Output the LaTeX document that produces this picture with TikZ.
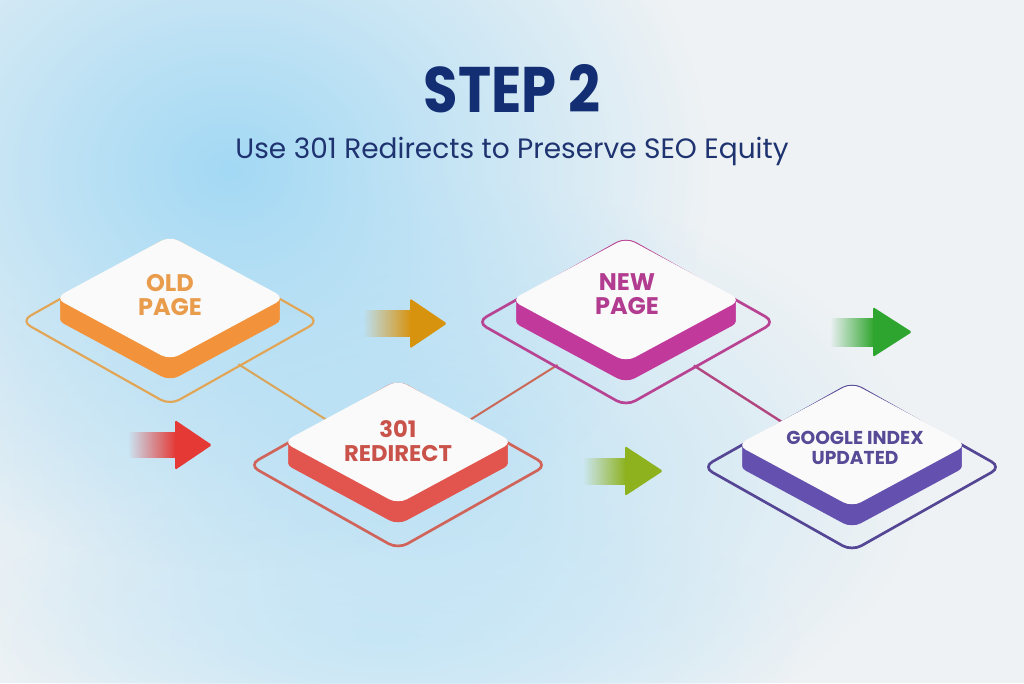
\documentclass[tikz,border=0pt]{standalone}
\usepackage{fontspec}
\setmainfont{Poppins}
\usetikzlibrary{calc,fadings}

\definecolor{bgbase}{HTML}{EEF2F4}
\definecolor{blobA}{HTML}{A3D9F4}
\definecolor{blobB}{HTML}{BDE2F5}
\definecolor{blobC}{HTML}{D0EAF7}
\definecolor{titlec}{HTML}{132E73}
\definecolor{subc}{HTML}{1E3370}
\definecolor{facec}{HTML}{FAFAFA}
% old page
\definecolor{oldside}{HTML}{F2933B}
\definecolor{oldtxt}{HTML}{E89C4C}
\definecolor{oldring}{HTML}{E2A555}
% 301
\definecolor{redside}{HTML}{E1554E}
\definecolor{redtxt}{HTML}{C9524A}
\definecolor{redring}{HTML}{D0645A}
% new page
\definecolor{newside}{HTML}{C2399C}
\definecolor{newtxt}{HTML}{B23C8F}
\definecolor{newring}{HTML}{B94393}
% google
\definecolor{gglside}{HTML}{6450AE}
\definecolor{ggltxt}{HTML}{574A96}
\definecolor{gglring}{HTML}{544694}
% connectors
\definecolor{connA}{HTML}{D9A55A}
\definecolor{connB}{HTML}{C96A5A}
\definecolor{connC}{HTML}{B24680}
% arrows
\definecolor{arrO}{HTML}{D8930E}
\definecolor{arrR}{HTML}{E53935}
\definecolor{arrL}{HTML}{8DB21E}
\definecolor{arrG}{HTML}{2EA52E}

\tikzfading[name=blobfade, inner color=transparent!0, outer color=transparent!100]
\tikzfading[name=tailfade, left color=transparent!100, middle color=transparent!0, right color=transparent!0]

% rounded diamond path centred at origin, half width #1, half height #2
\newcommand\dpath[2]{(-#1/2,-#2/2) -- (0,-#2) -- (#1,0) -- (0,#2) -- (-#1,0) -- cycle}

% blurred arrow: colour, shaft start x, head base x, tip x, centre y, shaft half, head half
\newcommand\blurarrow[7]{%
  \fill[#1, path fading=tailfade] (#2,#5-#6) rectangle (#3+1,#5+#6);
  \fill[#1, rounded corners=1.2pt] (#3,#5-#7) -- (#4,#5) -- (#3,#5+#7) -- cycle;
}

\tikzset{
  face/.style={fill=facec, rounded corners=7.5pt},
  sidefill/.style={fill=#1, rounded corners=7.5pt},
  ring/.style={draw=#1, line width=2pt, rounded corners=8pt},
  conn/.style={draw=#1, line width=1.5pt},
  lbl/.style={font=\fontsize{18}{18}\selectfont\bfseries, align=center, inner sep=0pt},
}

\begin{document}
\begin{tikzpicture}[x=0.75pt, y=-0.75pt]
\useasboundingbox (0,0) rectangle (1024,683);

% background
\begin{scope}
  \clip (0,0) rectangle (1024,683);
  \fill[bgbase] (0,0) rectangle (1024,683);
  \fill[blobC, path fading=blobfade] (380,640) ellipse (420 and 160);
  \fill[blobB, path fading=blobfade] (420,480) ellipse (500 and 300);
  \fill[blobA, path fading=blobfade] (230,170) ellipse (480 and 400);
\end{scope}

% title
\node[font=\fontsize{42}{42}\selectfont\bfseries, text=titlec, yscale=1.15] (title) at (512,89) {STEP 2};
\node[font=\fontsize{21}{21}\selectfont, text=subc] (subtitle) at (512,151) {Use 301 Redirects to Preserve SEO Equity};

% ring centres
\coordinate (oldr) at (170,321);
\coordinate (redr) at (398,465);
\coordinate (newr) at (626,322);
\coordinate (gglr) at (852,467);

% connectors
\draw[conn=connA] ($(oldr)!0.30!(redr)$) -- ($(oldr)!0.72!(redr)$);
\draw[conn=connB] ($(redr)!0.28!(newr)$) -- ($(redr)!0.70!(newr)$);
\draw[conn=connC, line width=1.8pt] ($(newr)!0.30!(gglr)$) -- ($(newr)!0.72!(gglr)$);

% rings
\begin{scope}[shift={(oldr)}] \draw[ring=oldring, line width=1.6pt] \dpath{149}{84}; \end{scope}
\begin{scope}[shift={(redr)}] \draw[ring=redring] \dpath{149}{84}; \end{scope}
\begin{scope}[shift={(newr)}] \draw[ring=newring] \dpath{149}{84}; \end{scope}
\begin{scope}[shift={(gglr)}] \draw[ring=gglring] \dpath{149}{84}; \end{scope}

% tiles
\foreach \cx/\cy/\sc in {170/298/oldside, 398/442/redside, 626/300/newside, 852/445/gglside}{
  \begin{scope}[shift={(\cx,\cy)}]
    \foreach \s in {21,19,...,1}{
      \fill[sidefill=\sc, shift={(0,\s)}] \dpath{115}{62};
    }
    \fill[face] \dpath{115}{62};
  \end{scope}
}

% labels
\node[lbl, text=oldtxt] (old) at (170,295) {OLD\\PAGE};
\node[lbl, text=redtxt, font=\fontsize{17}{18}\selectfont\bfseries] (redirect) at (398,441) {301\\REDIRECT};
\node[lbl, text=newtxt] (new) at (627,294) {NEW\\PAGE};
\node[lbl, text=ggltxt, font=\fontsize{14}{15}\selectfont\bfseries] (google) at (855,448) {GOOGLE INDEX\\UPDATED};

% arrows
\blurarrow{arrO}{363}{410}{447}{323.5}{13.5}{25}
\blurarrow{arrR}{128}{175}{212}{445}{13}{25}
\blurarrow{arrL}{583}{625}{663}{471}{13.5}{25}
\blurarrow{arrG}{830}{873}{912}{332}{14.5}{25}

\end{tikzpicture}
\end{document}
